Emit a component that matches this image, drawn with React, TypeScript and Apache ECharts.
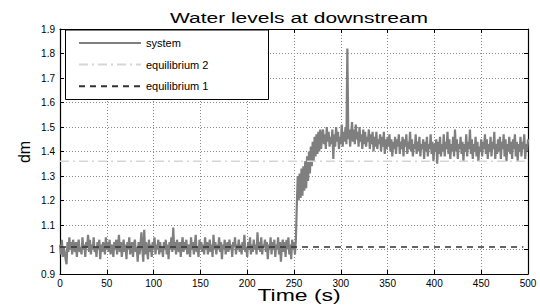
import React, { useEffect, useRef } from "react";
import * as echarts from "echarts";

// ---- data (t = 0..500 s, one sample per second) ----
const timeStep = 1;

const baselineLevels = [
  1.02, 0.98, 1.04, 0.97, 1.01, 0.99, 0.96, 0.94, 1.03, 0.99,
  1.05, 1.0, 1.03, 0.98, 1.04, 1.01, 0.99, 1.03, 0.97, 1.02,
  1.04, 0.99, 1.01, 0.98, 1.05, 1.0, 1.02, 0.97, 1.03, 1.01,
  1.06, 0.99, 1.04, 0.98, 1.02, 1.0, 1.05, 0.99, 1.01, 0.97,
  1.03, 1.0, 1.04, 0.96, 1.02, 0.99, 1.03, 1.01, 0.98, 1.05,
  1.0, 1.03, 0.99, 1.04, 0.98, 1.02, 1.01, 0.97, 1.03, 1.0,
  1.04, 0.98, 1.02, 1.06, 0.99, 1.03, 0.97, 1.01, 1.04, 0.99,
  1.02, 0.96, 1.03, 1.0, 1.05, 0.98, 1.01, 1.03, 0.97, 1.02,
  1.04, 0.99, 1.01, 0.95, 1.03, 0.98, 1.02, 1.07, 1.0, 0.95,
  1.08, 0.98, 1.03, 1.0, 0.96, 1.04, 0.99, 1.02, 0.97, 1.03,
  1.01, 1.05, 0.98, 1.02, 1.0, 1.04, 0.98, 1.03, 0.99, 1.01,
  0.97, 1.03, 1.0, 1.04, 0.98, 1.02, 0.96, 1.03, 1.0, 1.05,
  0.99, 1.09, 1.0, 1.03, 0.98, 1.04, 1.01, 0.99, 1.03, 0.97,
  1.02, 1.05, 0.99, 1.03, 1.0, 1.04, 0.98, 1.02, 1.01, 0.97,
  1.05, 1.0, 1.03, 0.98, 1.02, 1.06, 0.99, 1.01, 0.97, 1.04,
  1.0, 1.03, 0.99, 1.02, 0.98, 1.05, 1.0, 1.03, 0.98, 1.01,
  1.04, 0.99, 1.02, 0.97, 1.06, 1.0, 1.03, 0.98, 1.02, 1.0,
  1.05, 0.99, 1.03, 0.96, 1.02, 1.0, 1.04, 0.98, 1.01, 1.03,
  0.99, 1.04, 1.0, 1.02, 0.97, 1.03, 1.01, 1.05, 0.98, 1.02,
  1.0, 1.04, 0.99, 1.02, 0.98, 1.03, 1.0, 1.06, 0.99, 1.01,
  0.97, 1.03, 1.0, 1.05, 0.98, 1.02, 0.99, 1.04, 1.0, 1.02,
  0.98, 1.07, 1.0, 1.03, 0.99, 1.05, 0.98, 1.02, 1.01, 1.04,
  0.99, 1.03, 0.96, 1.02, 1.0, 1.05, 0.98, 1.03, 1.0, 1.04,
  0.97, 1.02, 1.0, 1.05, 0.98, 1.03, 0.95, 1.01, 1.04, 0.99,
  1.03, 0.97, 1.04, 1.0, 1.05, 0.98, 1.02, 0.96, 1.04, 1.0,
  1.03, 0.98, 1.04,
];

const riseLevels = [
  1.18, 1.3, 1.2, 1.31, 1.21, 1.33, 1.22, 1.34, 1.24, 1.36,
  1.25, 1.38, 1.28, 1.4, 1.31, 1.42, 1.34, 1.44, 1.36, 1.46,
  1.38, 1.47, 1.39, 1.48, 1.4, 1.49, 1.41, 1.47,
];

const raisedLevels = [
  1.49, 1.43, 1.47, 1.41, 1.5, 1.44, 1.48, 1.42, 1.46, 1.43,
  1.49, 1.37, 1.47, 1.42, 1.5, 1.44, 1.48, 1.41, 1.46, 1.43,
  1.51, 1.42, 1.48, 1.44, 1.5, 1.43, 1.82, 1.45, 1.49, 1.42,
  1.47, 1.52, 1.44, 1.49, 1.43, 1.51, 1.45, 1.48, 1.42, 1.5,
  1.44, 1.47, 1.41, 1.49, 1.43, 1.48, 1.42, 1.46, 1.44, 1.49,
  1.41, 1.47, 1.43, 1.48, 1.4, 1.46, 1.42, 1.48, 1.41, 1.45,
  1.43, 1.47, 1.4, 1.46, 1.42, 1.48, 1.39, 1.45, 1.41, 1.46,
  1.42, 1.47, 1.4, 1.45, 1.38, 1.44, 1.41, 1.46, 1.39, 1.45,
  1.42, 1.47, 1.39, 1.44, 1.41, 1.46, 1.38, 1.45, 1.42, 1.47,
  1.39, 1.44, 1.41, 1.48, 1.4, 1.45, 1.38, 1.43, 1.41, 1.47,
  1.39, 1.44, 1.4, 1.46, 1.38, 1.43, 1.41, 1.45, 1.37, 1.44,
  1.4, 1.46, 1.38, 1.43, 1.41, 1.47, 1.39, 1.44, 1.36, 1.43,
  1.4, 1.45, 1.35, 1.44, 1.39, 1.46, 1.38, 1.43, 1.4, 1.47,
  1.38, 1.44, 1.41, 1.48, 1.39, 1.45, 1.37, 1.43, 1.4, 1.46,
  1.38, 1.49, 1.4, 1.45, 1.37, 1.43, 1.41, 1.46, 1.39, 1.44,
  1.36, 1.43, 1.4, 1.47, 1.38, 1.44, 1.41, 1.49, 1.39, 1.45,
  1.37, 1.43, 1.4, 1.46, 1.38, 1.44, 1.36, 1.42, 1.4, 1.45,
  1.38, 1.44, 1.41, 1.47, 1.39, 1.45, 1.37, 1.43, 1.4, 1.46,
  1.38, 1.44, 1.41, 1.48, 1.37, 1.43, 1.39, 1.45, 1.4, 1.46,
  1.37, 1.44, 1.41, 1.47, 1.38, 1.45, 1.36, 1.43, 1.4, 1.46,
  1.39, 1.44, 1.37, 1.45, 1.41, 1.47, 1.38, 1.44, 1.36, 1.43,
  1.4, 1.46, 1.38, 1.44, 1.41, 1.47, 1.37, 1.43, 1.4, 1.45,
];

const systemLevel = [...baselineLevels, ...riseLevels, ...raisedLevels];

const equilibrium1Level = 1.01;
const equilibrium1Span = [0, 495];
const equilibrium2Level = 1.36;
const equilibrium2Span = [0, 500];

const xRange = [0, 500];
const xInterval = 50;
const yRange = [0.9, 1.9];
const yInterval = 0.1;

const titleText = "Water levels at downstream";
const xName = "Time (s)";
const yName = "dm";
const seriesNames = ["system", "equilibrium 2", "equilibrium 1"];

const FONT = '"Liberation Sans", Arial, Helvetica, sans-serif';

export default function App() {
  const ref = useRef<HTMLDivElement>(null);

  useEffect(() => {
    if (!ref.current) return;
    const chart = echarts.init(ref.current, undefined, { renderer: "svg" });

    const systemData = systemLevel.map((v, i) => [i * timeStep, v]);
    const eq1Data = equilibrium1Span.map((t) => [t, equilibrium1Level]);
    const eq2Data = equilibrium2Span.map((t) => [t, equilibrium2Level]);

    const frame = { show: true, onZero: false, lineStyle: { color: "#000", width: 1.2 } };
    const ticks = { show: true, inside: true, length: 4, lineStyle: { color: "#000", width: 1 } };
    const grid = { show: true, lineStyle: { color: "#8a8a8a", width: 1, type: [1, 2] } };
    const label = { color: "#000", fontSize: 10, fontFamily: FONT };

    chart.setOption({
      animation: false,
      backgroundColor: "#fff",
      grid: { left: 60, right: 12, top: 29, bottom: 31, containLabel: false },
      xAxis: [
        {
          type: "value",
          min: xRange[0],
          max: xRange[1],
          interval: xInterval,
          position: "bottom",
          axisLine: frame,
          axisTick: ticks,
          axisLabel: { ...label, margin: 4 },
          splitLine: grid,
        },
        {
          type: "value",
          min: xRange[0],
          max: xRange[1],
          interval: xInterval,
          position: "top",
          axisLine: frame,
          axisTick: ticks,
          axisLabel: { show: false },
          splitLine: { show: false },
        },
      ],
      yAxis: [
        {
          type: "value",
          min: yRange[0],
          max: yRange[1],
          interval: yInterval,
          position: "left",
          axisLine: frame,
          axisTick: ticks,
          axisLabel: { ...label, margin: 5 },
          splitLine: grid,
        },
        {
          type: "value",
          min: yRange[0],
          max: yRange[1],
          interval: yInterval,
          position: "right",
          axisLine: frame,
          axisTick: ticks,
          axisLabel: { show: false },
          splitLine: { show: false },
        },
      ],
      legend: {
        show: true,
        orient: "vertical",
        left: 78,
        top: 36,
        padding: 0,
        itemWidth: 62,
        itemHeight: 14,
        itemGap: 7.6,
        z: 20,
        data: seriesNames,
        itemStyle: { opacity: 0 },
        textStyle: { color: "#000", fontSize: 11, fontFamily: FONT, lineHeight: 14 },
      },
      graphic: [
        {
          type: "rect",
          z: 10,
          shape: { x: 65.5, y: 30, width: 203, height: 69.5 },
          style: { fill: "#fff", stroke: "#000", lineWidth: 1 },
        },
        {
          type: "text",
          x: 299,
          y: 18,
          scaleX: 1.4,
          style: {
            text: titleText,
            font: `15px ${FONT}`,
            fill: "#000",
            textAlign: "center",
            textVerticalAlign: "middle",
          },
        },
        {
          type: "text",
          x: 299,
          y: 295,
          scaleX: 1.35,
          style: {
            text: xName,
            font: `17px ${FONT}`,
            fill: "#000",
            textAlign: "center",
            textVerticalAlign: "middle",
          },
        },
        {
          type: "text",
          x: 24,
          y: 152,
          rotation: Math.PI / 2,
          style: {
            text: yName,
            font: `16px ${FONT}`,
            fill: "#000",
            textAlign: "center",
            textVerticalAlign: "middle",
          },
        },
      ],
      series: [
        {
          name: seriesNames[0],
          type: "line",
          data: systemData,
          symbol: "none",
          showSymbol: false,
          lineStyle: { color: "#7f7f7f", width: 2.2 },
          itemStyle: { color: "#7f7f7f" },
          z: 2,
        },
        {
          name: seriesNames[1],
          type: "line",
          data: eq2Data,
          symbol: "none",
          showSymbol: false,
          lineStyle: { color: "#d6d6d6", width: 1.5, type: [9, 4, 2, 4] },
          itemStyle: { color: "#d6d6d6" },
          z: 3,
        },
        {
          name: seriesNames[2],
          type: "line",
          data: eq1Data,
          symbol: "none",
          showSymbol: false,
          lineStyle: { color: "#333", width: 1.5, type: [6, 5] },
          itemStyle: { color: "#333" },
          z: 3,
        },
      ],
    });

    return () => chart.dispose();
  }, []);

  return (
    <div
      ref={ref}
      style={{ position: "fixed", left: 0, top: 0, width: 540, height: 305 }}
    />
  );
}
